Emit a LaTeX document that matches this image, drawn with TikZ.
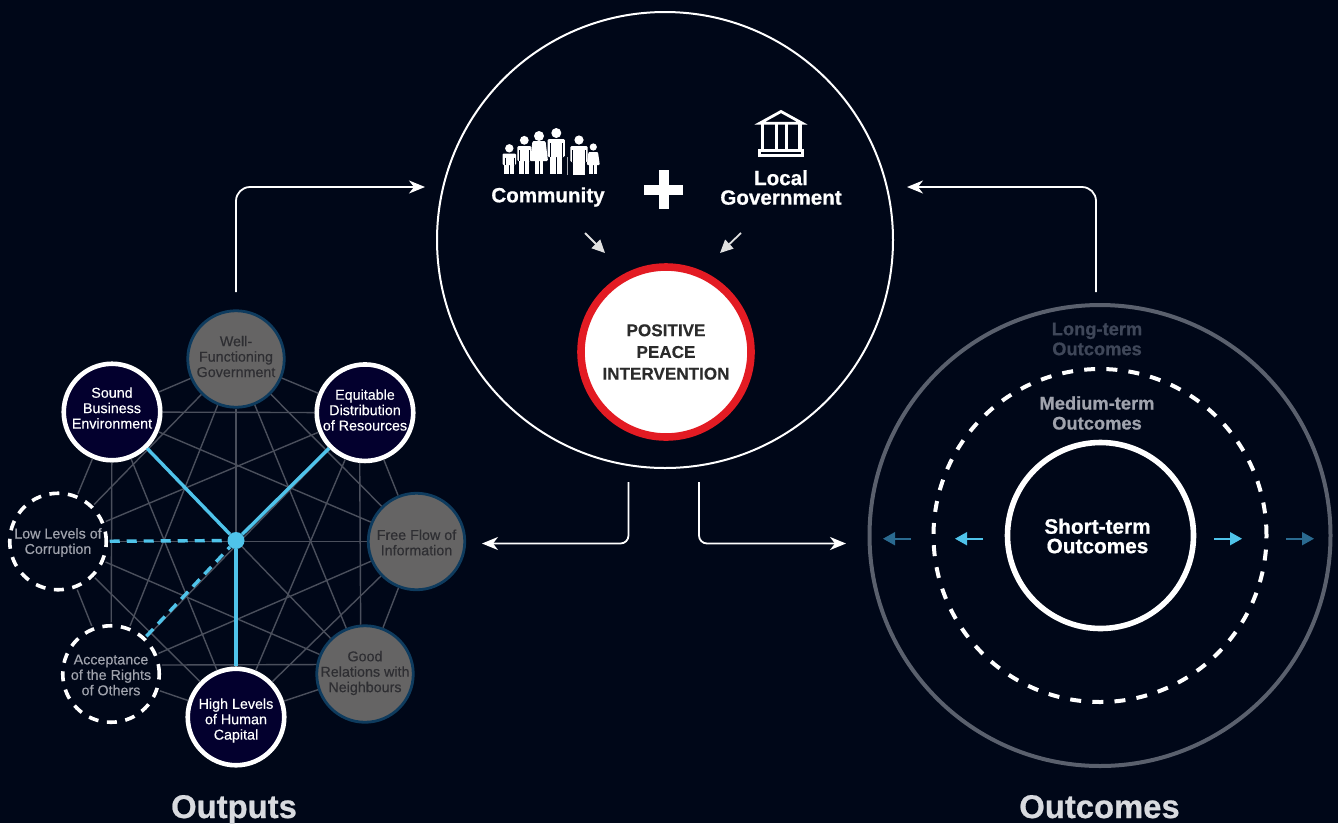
\documentclass[tikz,border=0pt]{standalone}
\usepackage{fontspec}
\setmainfont{Liberation Sans}
\newfontfamily\medfont[FakeBold=0.3]{Liberation Sans}
\usetikzlibrary{arrows.meta}
\definecolor{bgc}{HTML}{000718}
\definecolor{navy}{HTML}{03002E}
\definecolor{grayfill}{HTML}{656464}
\definecolor{grayedge}{HTML}{0E3B5E}
\definecolor{chord}{HTML}{4A4F5C}
\definecolor{cyanline}{HTML}{4FC3EA}
\definecolor{dimblue}{HTML}{2A6A90}
\definecolor{ringgray}{HTML}{5A606D}
\definecolor{redring}{HTML}{E31B23}
\definecolor{longtxt}{HTML}{3F4759}
\definecolor{medtxt}{HTML}{A0A3AD}
\definecolor{darktxt}{HTML}{2E2E32}
\definecolor{headtxt}{HTML}{D8DADF}
\definecolor{smallarrow}{HTML}{E0E0E0}
\newcommand{\fsz}[2]{\fontsize{#1}{#2}\selectfont}
\newcommand{\heavy}{\bfseries\addfontfeature{FakeBold=0.7}}
% cx, head y, head r, half width, shoulder y, hip y, foot y
\newcommand{\figperson}[7]{%
  \fill[white] (#1,#2) circle[radius=#3];
  \fill[white,rounded corners=1.2] ({#1-#4},#5) rectangle ({#1+#4},{#6+2});
  \fill[white] ({#1-0.72*#4},#6) rectangle ({#1-0.45},#7);
  \fill[white] ({#1+0.45},#6) rectangle ({#1+0.72*#4},#7);
  \draw[bgc,line width=0.6] ({#1-#4+2.3},{#5+4}) -- ({#1-#4+2.3},{#6+2});
  \draw[bgc,line width=0.6] ({#1+#4-2.3},{#5+4}) -- ({#1+#4-2.3},{#6+2});
}
\tikzset{
  x=1pt,y=-1pt,
  netnode/.style={circle,minimum size=96.5pt,inner sep=0pt},
  solidnode/.style={netnode,draw=white,line width=4.6pt,fill=navy},
  dimnode/.style={netnode,draw=grayedge,line width=2.8pt,fill=grayfill},
  dashnode/.style={netnode,draw=white,line width=3.6pt,fill=bgc,dash pattern=on 10pt off 8.6pt,outer sep=3.5pt},
  netlabel/.style={inner sep=0pt,align=center,font=\medfont\fsz{14.3}{15.4}},
  chordline/.style={draw=chord,line width=1.4pt},
  spoke/.style={draw=cyanline,line width=3.4pt},
  spokedash/.style={spoke,dash pattern=on 10pt off 7pt},
  flow/.style={draw=white,line width=1.8pt,-{Stealth[length=16pt,width=13pt,inset=5pt]}},
  nudge/.style={draw=smallarrow,line width=1.8pt,-{Triangle[length=13pt,width=12pt]}},
  outarrow/.style={line width=1.7pt,-{Triangle[length=12pt,width=13pt]}},
  ringlabel/.style={align=center,inner sep=0pt,font=\heavy\fsz{18.3}{20}},
  toplabel/.style={align=center,inner sep=0pt,text=white,font=\heavy\fsz{20.6}{19.5}},
  headlabel/.style={inner sep=0pt,anchor=base,text=headtxt,font=\heavy\fsz{32.8}{34}},
  blank/.style={circle,inner sep=0pt,fill=bgc},
}
\begin{document}
\begin{tikzpicture}
\useasboundingbox[fill=bgc] (0,0) rectangle (1338,823);

% Central circle
\node[blank,draw=white,line width=2pt,minimum size=456pt] (main) at (665,240) {};
\node[circle,minimum size=170pt,inner sep=0pt,fill=white,draw=redring,line width=7.6pt,
      align=center,text=black!83,font=\bfseries\addfontfeature{FakeBold=0.25}\fsz{17.1}{21.7}] (peace) at (666,352)
      {POSITIVE\\PEACE\\INTERVENTION};
\node[toplabel] (community) at (548,197) {Community};
\node[toplabel] (localgov) at (781,187.5) {Local\\Government};

% Plus
\fill[white] (658.5,170) rectangle (668.5,209);
\fill[white] (644,184.5) rectangle (683,194.5);

% Family icon
\figperson{509.3}{148.3}{4.2}{6.8}{153.5}{163}{174}
\figperson{524.3}{140.3}{4.4}{7}{146}{159}{174}
\fill[white] (539,136) circle[radius=5];
\fill[white,rounded corners=1.2] (532.5,141) -- (545.5,141) -- (548,161) -- (530,161) -- cycle;
\fill[white] (534.6,160) rectangle (538.5,174);
\fill[white] (539.5,160) rectangle (543.4,174);
\figperson{556.3}{133}{5}{8.6}{139}{155}{174}
\figperson{579}{140}{4.6}{8.6}{146}{160}{175}
\draw[white!65!bgc,line width=1.2pt] (567.8,157) -- (567.8,175);
\fill[white] (593.3,147) circle[radius=3.6];
\fill[white,rounded corners=1] (588.5,152) -- (598,152) -- (599.8,165) -- (586.8,165) -- cycle;
\fill[white] (589.4,164) rectangle (592.7,174);
\fill[white] (593.9,164) rectangle (597.2,174);

% Temple icon
\draw[white,line width=2.8pt,line join=miter] (759.8,123.2) -- (781,111.5) -- (802.2,123.2) -- cycle;
\foreach \cx in {762.5,776.5,786.5,800}{\fill[white] ({\cx-1.6},124) rectangle ({\cx+1.6},150);}
\draw[white,line width=2.8pt] (759.8,150.8) rectangle (802.8,155.6);

% Nudges
\coordinate (nl1) at (585,233); \coordinate (nl2) at (605,253);
\coordinate (nr1) at (741,233); \coordinate (nr2) at (720,253);
\draw[nudge] (nl1) -- (nl2);
\draw[nudge] (nr1) -- (nr2);

% Network nodes
\node[dimnode]  (well)  at (236,359)   {};
\node[solidnode](sound) at (112,412)   {};
\node[solidnode](equit) at (365,412.7) {};
\node[dimnode]  (free)  at (416.5,541.5) {};
\node[dimnode]  (good)  at (365,674)   {};
\node[solidnode](high)  at (236,717)   {};
\node[dashnode] (accept)at (111,674)   {};
\node[dashnode] (low)   at (58,541.5)  {};

% Chords
\foreach \a/\b in {well/sound,well/equit,well/free,well/good,well/high,well/accept,well/low,
  sound/free,sound/good,sound/high,sound/accept,sound/low,
  equit/free,equit/high,equit/accept,equit/low,
  free/good,free/high,free/accept,free/low,
  good/high,good/low,high/accept,high/low,accept/low}
  {\draw[chordline] (\a) -- (\b);}
\draw[chordline] (sound) -- (equit);
\draw[chordline] (equit.264.3) -- (good.95.7);
\draw[chordline] (accept.10.7) -- (good.169.3);

% Hub and spokes
\node[circle,fill=cyanline,minimum size=17pt,inner sep=0pt] (hub) at (236,540.5) {};
\draw[spoke] (hub) -- (sound);
\draw[spoke] (hub) -- (equit);
\draw[spoke] (hub) -- (high);
\draw[spokedash] (low) -- (hub);
\draw[spokedash] (accept) -- (hub);

% Network labels
\node[netlabel,text=darktxt] (welltxt) at (236,356.5) {Well-\\Functioning\\Government};
\node[netlabel,text=white] (soundtxt) at (112,408) {Sound\\Business\\Environment};
\node[netlabel,text=white] (equittxt) at (365,410) {Equitable\\Distribution\\of Resources};
\node[netlabel,text=darktxt] (freetxt) at (416.5,542.5) {Free Flow of\\Information};
\node[netlabel,text=darktxt] (goodtxt) at (365,673) {Good\\Relations with\\Neighbours};
\node[netlabel,text=white] (hightxt) at (236,720.5) {High Levels\\of Human\\Capital};
\node[netlabel,text=medtxt] (accepttxt) at (111,675) {Acceptance\\of the Rights\\of Others};
\node[netlabel,text=medtxt] (lowtxt) at (58,542.5) {Low Levels of\\Corruption};

% Outcome rings
\node[circle,minimum size=461pt,inner sep=0pt,draw=ringgray,line width=4pt] (ringlong) at (1100,535.5) {};
\node[circle,minimum size=333pt,inner sep=0pt,draw=white,line width=4pt,dash pattern=on 11pt off 11.2pt] (ringmed) at (1100,535.5) {};
\node[circle,minimum size=186pt,inner sep=0pt,draw=white,line width=5.6pt] (ringshort) at (1100.5,535.5) {};
\node[inner sep=0pt,align=center,text=white,font=\heavy\fsz{20.8}{19.5}] (shortlabel) at (1097.5,536) {Short-term\\Outcomes};
\node[ringlabel,text=longtxt] (longlabel) at (1097,339) {Long-term\\Outcomes};
\node[ringlabel,text=medtxt] (medlabel) at (1097,413) {Medium-term\\Outcomes};

% Outward arrows
\coordinate (oa1) at (983,538.7); \coordinate (oa2) at (955,538.7);
\coordinate (ob1) at (1214,538.7); \coordinate (ob2) at (1242,538.7);
\coordinate (oc1) at (911,538.7); \coordinate (oc2) at (883,538.7);
\coordinate (od1) at (1286,538.7); \coordinate (od2) at (1314,538.7);
\draw[outarrow,draw=cyanline,fill=cyanline] (oa1) -- (oa2);
\draw[outarrow,draw=cyanline,fill=cyanline] (ob1) -- (ob2);
\draw[outarrow,draw=dimblue,fill=dimblue] (oc1) -- (oc2);
\draw[outarrow,draw=dimblue,fill=dimblue] (od1) -- (od2);

% Flow arrows
\coordinate (ftl) at (236,292); \coordinate (ftlend) at (425,187);
\coordinate (ftr) at (1096,292); \coordinate (ftrend) at (907,187);
\coordinate (fbl) at (628.5,482); \coordinate (fblend) at (482,543.5);
\coordinate (fbr) at (699,482); \coordinate (fbrend) at (846,543.5);
\draw[flow,rounded corners=14pt] (ftl) |- (ftlend);
\draw[flow,rounded corners=14pt] (ftr) |- (ftrend);
\draw[flow,rounded corners=8pt] (fbl) |- (fblend);
\draw[flow,rounded corners=8pt] (fbr) |- (fbrend);

% Headings
\node[headlabel] (outputs) at (234,818) {Outputs};
\node[headlabel] (outcomes) at (1099.5,818) {Outcomes};
\end{tikzpicture}
\end{document}
